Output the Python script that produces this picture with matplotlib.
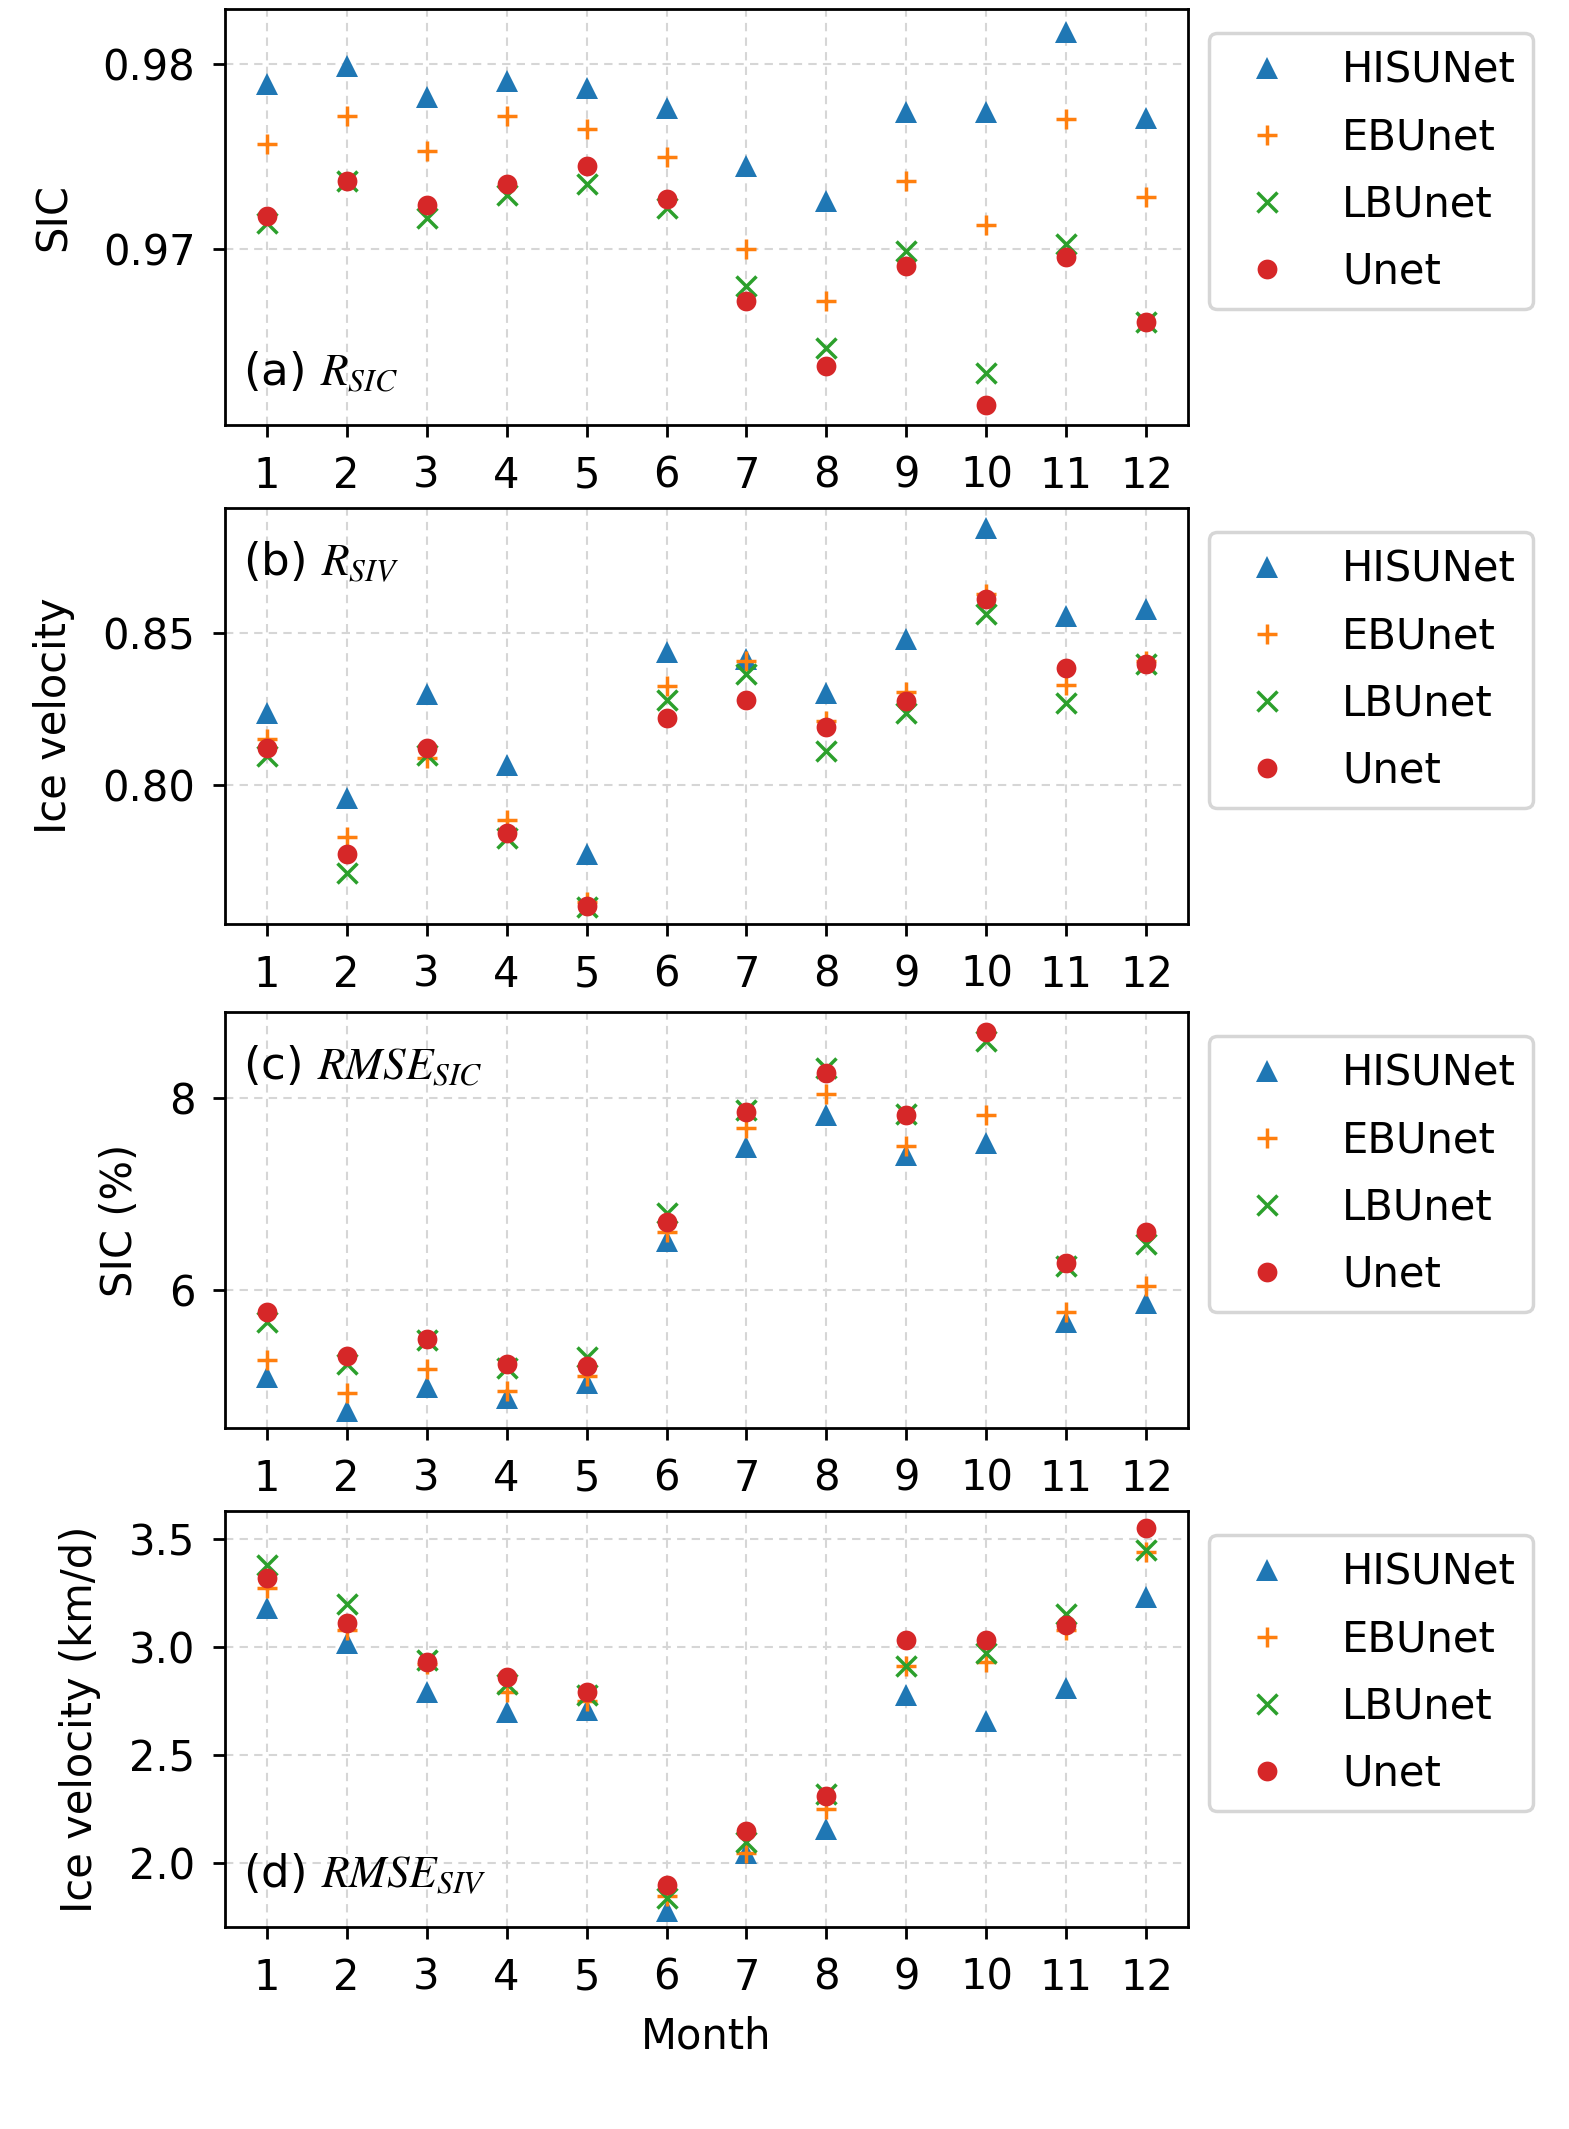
import matplotlib
matplotlib.use("Agg")
import matplotlib.pyplot as plt

plt.rcParams['font.size'] = 12
plt.rcParams['mathtext.fontset'] = 'stix'

months = list(range(1, 13))
models = ["HISUNet", "EBUnet", "LBUnet", "Unet"]
markers = ["^", "+", "x", "o"]
colors = ["C0", "C1", "C2", "C3"]

# (a) R_SIC
r_sic_hisunet = [0.9789, 0.9799, 0.9782, 0.9791, 0.9787, 0.9776, 0.9745, 0.9726, 0.9774, 0.9774, 0.9817, 0.9771]
r_sic_ebunet = [0.9757, 0.9772, 0.9753, 0.9772, 0.9765, 0.9750, 0.9700, 0.9672, 0.9737, 0.9713, 0.9770, 0.9728]
r_sic_lbunet = [0.9714, 0.9737, 0.9717, 0.9729, 0.9735, 0.9722, 0.9680, 0.9647, 0.9699, 0.9633, 0.9703, 0.9661]
r_sic_unet = [0.9718, 0.9737, 0.9724, 0.9735, 0.9745, 0.9727, 0.9672, 0.9637, 0.9691, 0.9616, 0.9696, 0.9661]

# (b) R_SIV
r_siv_hisunet = [0.8239, 0.7958, 0.8300, 0.8068, 0.7776, 0.8437, 0.8415, 0.8305, 0.8481, 0.8845, 0.8558, 0.8580]
r_siv_ebunet = [0.8151, 0.7832, 0.8090, 0.7887, 0.7617, 0.8327, 0.8410, 0.8212, 0.8308, 0.8630, 0.8329, 0.8410]
r_siv_lbunet = [0.8096, 0.7711, 0.8101, 0.7826, 0.7600, 0.8281, 0.8366, 0.8112, 0.8239, 0.8564, 0.8272, 0.8399]
r_siv_unet = [0.8123, 0.7776, 0.8123, 0.7843, 0.7604, 0.8222, 0.8281, 0.8192, 0.8278, 0.8613, 0.8384, 0.8399]

# (c) RMSE_SIC (%)
rmse_sic_hisunet = [5.10, 4.75, 5.00, 4.88, 5.04, 6.51, 7.49, 7.82, 7.40, 7.53, 5.67, 5.87]
rmse_sic_ebunet = [5.28, 4.93, 5.18, 4.96, 5.11, 6.61, 7.68, 8.04, 7.50, 7.82, 5.78, 6.04]
rmse_sic_lbunet = [5.67, 5.24, 5.48, 5.19, 5.31, 6.80, 7.87, 8.31, 7.83, 8.59, 6.25, 6.48]
rmse_sic_unet = [5.78, 5.32, 5.50, 5.24, 5.21, 6.71, 7.85, 8.25, 7.82, 8.68, 6.28, 6.60]

# (d) RMSE_SIV (km/d)
rmse_siv_hisunet = [3.18, 3.02, 2.79, 2.70, 2.71, 1.78, 2.05, 2.16, 2.78, 2.66, 2.81, 3.23]
rmse_siv_ebunet = [3.27, 3.08, 2.92, 2.79, 2.75, 1.85, 2.05, 2.25, 2.91, 2.93, 3.08, 3.44]
rmse_siv_lbunet = [3.38, 3.20, 2.94, 2.83, 2.78, 1.84, 2.10, 2.32, 2.91, 2.97, 3.15, 3.45]
rmse_siv_unet = [3.32, 3.11, 2.93, 2.86, 2.79, 1.90, 2.15, 2.31, 3.03, 3.03, 3.10, 3.55]

panels = [
    ([r_sic_hisunet, r_sic_ebunet, r_sic_lbunet, r_sic_unet], "SIC", r"(a) $R_{SIC}$", "bottom",
     [0.97, 0.98], ["0.97", "0.98"], (0.96052, 0.98296)),
    ([r_siv_hisunet, r_siv_ebunet, r_siv_lbunet, r_siv_unet], "Ice velocity", r"(b) $R_{SIV}$", "top",
     [0.80, 0.85], ["0.80", "0.85"], (0.7545, 0.8911)),
    ([rmse_sic_hisunet, rmse_sic_ebunet, rmse_sic_lbunet, rmse_sic_unet], "SIC (%)", r"(c) $RMSE_{SIC}$", "top",
     [6, 8], ["6", "8"], (4.572, 8.887)),
    ([rmse_siv_hisunet, rmse_siv_ebunet, rmse_siv_lbunet, rmse_siv_unet], "Ice velocity (km/d)", r"(d) $RMSE_{SIV}$", "bottom",
     [2.0, 2.5, 3.0, 3.5], ["2.0", "2.5", "3.0", "3.5"], (1.706, 3.628)),
]

marker_kw = {
    "^": dict(markersize=6.6, markeredgewidth=0),
    "+": dict(markersize=6, markeredgewidth=1.0),
    "x": dict(markersize=6, markeredgewidth=1.0),
    "o": dict(markersize=5.7, markeredgewidth=0),
}

W, H = 1569, 2129
fig = plt.figure(figsize=(W / 250, H / 250), dpi=250)

left_px, right_px = 225, 1188
tops_px = [9, 508, 1012, 1511]
height_px = 416

for i, (series, ylabel, tag, tagpos, yt, ytl, ylim) in enumerate(panels):
    top = tops_px[i]
    ax = fig.add_axes([left_px / W, 1 - (top + height_px) / H,
                       (right_px - left_px) / W, height_px / H])
    for vals, name, m, c in zip(series, models, markers, colors):
        ax.plot(months, vals, linestyle="none", marker=m, color=c, label=name, **marker_kw[m])
    ax.set_xticks(months)
    ax.set_yticks(yt)
    ax.set_yticklabels(ytl)
    ax.set_ylim(*ylim)
    ax.set_xlim(0.48, 12.52)
    ax.tick_params(axis="both", pad=5)
    ax.grid(True, linestyle=(0, (4, 3)), color="#d6d6d6", linewidth=0.6)
    ax.set_axisbelow(True)
    ax.set_ylabel(ylabel, labelpad=8)
    if tagpos == "bottom":
        ax.text(0.019, 0.095, tag, transform=ax.transAxes, ha="left", va="baseline", fontsize=13)
    else:
        ax.text(0.019, 0.838, tag, transform=ax.transAxes, ha="left", va="baseline", fontsize=13)
    ax.legend(loc="upper left", bbox_to_anchor=(1.0, 0.993), labelspacing=0.6)
    if i == 3:
        ax.set_xlabel("Month", labelpad=5)

fig.savefig("out.png", dpi=250)
